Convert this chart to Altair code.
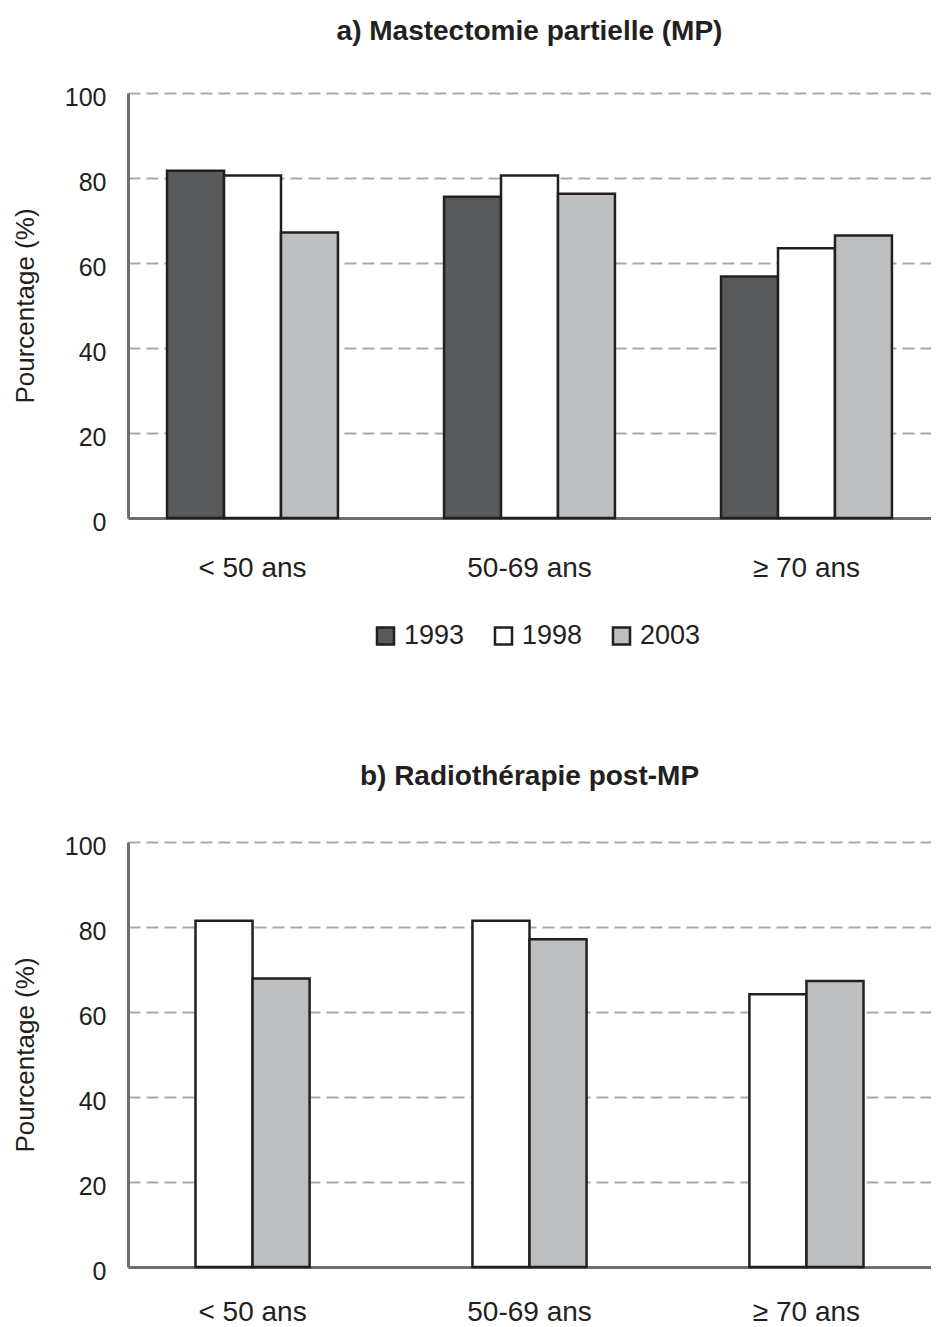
import altair as alt
import pandas as pd

groups = ["< 50 ans", "50-69 ans", "≥ 70 ans"]
years_a = ["1993", "1998", "2003"]
years_b = ["1998", "2003"]
colors_a = ["#58595b", "#ffffff", "#bcbec0"]
colors_b = ["#ffffff", "#bcbec0"]

mp_1993 = [81.7, 75.6, 56.8]
mp_1998 = [80.6, 80.6, 63.5]
mp_2003 = [67.2, 76.3, 66.5]

rt_1998 = [81.5, 81.5, 64.2]
rt_2003 = [67.9, 77.1, 67.3]

title_a = "a) Mastectomie partielle (MP)"
title_b = "b) Radiothérapie post-MP"
y_title = "Pourcentage (%)"
y_ticks = [0, 20, 40, 60, 80, 100]

rows_a = []
for yr, vals in zip(years_a, [mp_1993, mp_1998, mp_2003]):
    for g, v in zip(groups, vals):
        rows_a.append({"groupe": g, "annee": yr, "pct": v})
df_a = pd.DataFrame(rows_a)

rows_b = []
for yr, vals in zip(years_b, [rt_1998, rt_2003]):
    for g, v in zip(groups, vals):
        rows_b.append({"groupe": g, "annee": yr, "pct": v})
df_b = pd.DataFrame(rows_b)

FONT = "Liberation Sans"
TXT = "#231f20"
W = 803
H = 425


def panel(df, years, colors, title, pad_inner, pad_outer, show_legend, xpad,
          toff):
    legend = alt.Legend(
        title=None, orient="none", direction="horizontal",
        legendX=244, legendY=529,
        symbolType="square", symbolSize=290, symbolStrokeColor=TXT,
        symbolStrokeWidth=2.5, labelFontSize=27, labelFont=FONT,
        labelColor=TXT, columnPadding=24, labelOffset=5,
    ) if show_legend else None
    return alt.Chart(df).mark_bar(stroke=TXT, strokeWidth=2.5).encode(
        x=alt.X("groupe:N", sort=groups, title=None,
                scale=alt.Scale(domain=groups, paddingInner=pad_inner,
                                paddingOuter=pad_outer),
                axis=alt.Axis(labelAngle=0, labelFontSize=28, labelFont=FONT,
                              labelColor=TXT, ticks=False, labelPadding=xpad,
                              domainColor="#6d6e71", domainWidth=3, grid=False)),
        xOffset=alt.XOffset("annee:N", sort=years,
                            scale=alt.Scale(domain=years)),
        y=alt.Y("pct:Q", title=y_title,
                scale=alt.Scale(domain=[0, 100], nice=False),
                axis=alt.Axis(values=y_ticks, labelFontSize=25, labelFont=FONT,
                              labelColor=TXT, ticks=False, labelPadding=22,
                              labelOffset=4,
                              domainColor="#6d6e71", domainWidth=3,
                              grid=True, gridColor="#a7a9ac", gridWidth=2,
                              gridDash=[12, 6],
                              titleFontSize=26, titleFont=FONT,
                              titleFontWeight="normal", titleColor=TXT,
                              titlePadding=26)),
        fill=alt.Fill("annee:N", sort=years,
                      scale=alt.Scale(domain=years, range=colors),
                      legend=legend),
    ).properties(
        width=W, height=H,
        title=alt.TitleParams(title, font=FONT, fontSize=28, fontWeight="bold",
                              color=TXT, anchor="middle", offset=toff),
    )


top = panel(df_a, years_a, colors_a, title_a, 0.383, 0.141, True, 36, 39)
bottom = panel(df_b, years_b, colors_b, title_b, 0.588, 0.2437, False, 31, 43)

chart = alt.vconcat(top, bottom, spacing=113).resolve_scale(
    fill="independent", xOffset="independent"
).resolve_legend(fill="independent").properties(
    padding={"left": 4, "top": 10, "right": 0, "bottom": 0}
).configure(background="white").configure_view(stroke=None)

chart.save("out.html", embed_options={"renderer": "svg", "actions": False})
